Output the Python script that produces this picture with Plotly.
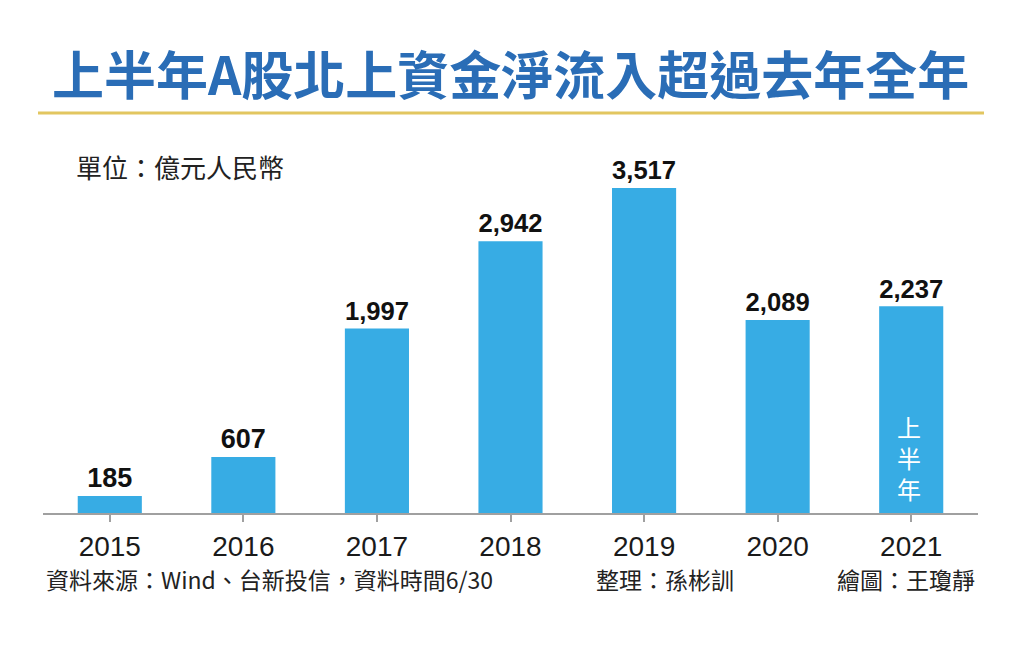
import plotly.graph_objects as go

years = ["2015", "2016", "2017", "2018", "2019", "2020", "2021"]
inflow = [185, 607, 1997, 2942, 3517, 2089, 2237]

title_text = "上半年A股北上資金淨流入超過去年全年"
unit_text = "單位：億元人民幣"
source_text = "資料來源：Wind、台新投信，資料時間6/30"
editor_text = "整理：孫彬訓"
artist_text = "繪圖：王瓊靜"
half_year_note = "上<br>半<br>年"

cjk = "Noto Sans CJK TC"
bar_color = "#37ace4"

# the page puts the figure 8px in from the top-left corner
OFF = 8
W, H = 1024, 651
L, R, T, B = 43 - OFF, 46 + OFF, 160 - OFF, 138 + OFF
plot_w = W - L - R
plot_h = H - T - B


def px_x(px):
    return (px - OFF - L) / plot_w


def px_y(py):
    return (H - B - (py - OFF)) / plot_h


fig = go.Figure()
fig.add_trace(go.Bar(
    x=years, y=inflow,
    marker=dict(color=bar_color, line=dict(width=0)),
    texttemplate="<b>%{y:,}</b>", textposition="outside",
    textfont=dict(family="Liberation Sans, " + cjk, size=27, color="#111"),
    cliponaxis=False, hoverinfo="skip",
))

# title and gold rule
fig.add_annotation(text="<b>" + title_text + "</b>", xref="paper", yref="paper",
                   x=px_x(510), y=px_y(73), yanchor="middle", showarrow=False,
                   font=dict(family=cjk, size=52, color="#2a6db6"))
fig.add_shape(type="line", xref="paper", yref="paper",
              x0=px_x(38), x1=px_x(984), y0=px_y(113), y1=px_y(113),
              line=dict(color="#e2c660", width=3))

# unit note
fig.add_annotation(text=unit_text, xref="paper", yref="paper",
                   x=px_x(74), y=px_y(166), xanchor="left", yanchor="middle",
                   showarrow=False, font=dict(family=cjk, size=26, color="#222"))

# vertical note inside the 2021 bar
fig.add_annotation(text=half_year_note, xref="paper", yref="paper",
                   x=px_x(909), y=px_y(457), xanchor="center", yanchor="middle",
                   showarrow=False,
                   font=dict(family=cjk, size=24, color="white"))

# footer
for txt, xx, anchor in [(source_text, 44, "left"), (editor_text, 594, "left"),
                        (artist_text, 977, "right")]:
    fig.add_annotation(text=txt, xref="paper", yref="paper",
                       x=px_x(xx), y=px_y(579), xanchor=anchor, yanchor="middle",
                       showarrow=False,
                       font=dict(family=cjk, size=23, color="#222"))

fig.update_layout(
    width=W, height=H,
    margin=dict(l=L, r=R, t=T, b=B),
    paper_bgcolor="white", plot_bgcolor="white",
    bargap=0.52, showlegend=False,
    xaxis=dict(type="category", range=[-0.5, 6.5], showline=True,
               linecolor="#a0a0a0", linewidth=2,
               ticks="outside", ticklen=7, tickcolor="#a0a0a0", tickwidth=1.5,
               tickfont=dict(family="Liberation Sans, " + cjk, size=28, color="#1a1a1a")),
    yaxis=dict(range=[0, 3820], visible=False),
)

fig.write_html("out.html")
